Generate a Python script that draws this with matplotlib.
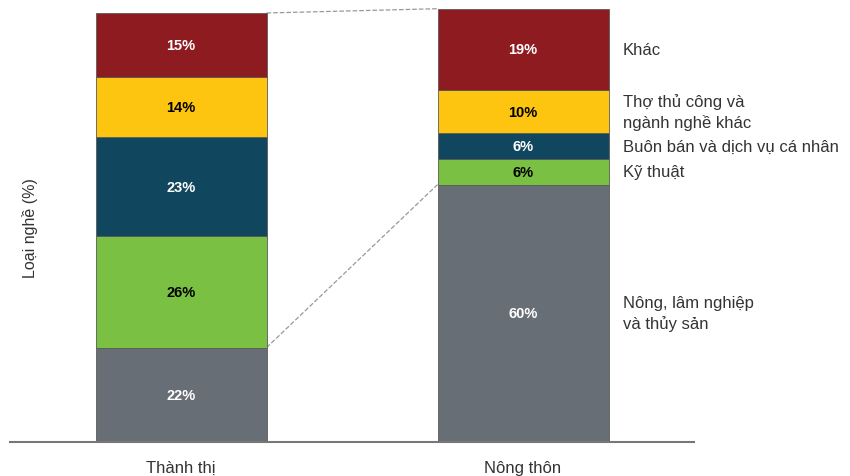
import matplotlib.pyplot as plt
import numpy as np

plt.rcParams["font.family"] = ["Liberation Sans", "DejaVu Sans"]

# Data
areas = ["Thành thị", "Nông thôn"]
occupations = [
    "Nông, lâm nghiệp\nvà thủy sản",
    "Kỹ thuật",
    "Buôn bán và dịch vụ cá nhân",
    "Thợ thủ công và\nngành nghề khác",
    "Khác",
]
urban = [22, 26, 23, 14, 15]
rural = [60, 6, 6, 10, 19]

colors = ["#686E76", "#7AC143", "#11475E", "#FDC50F", "#8E1B20"]
text_colors = ["white", "black", "white", "black", "white"]

fig = plt.figure(figsize=(8.5, 4.77), dpi=100)
ax = fig.add_axes([10 / 850, 1 - 443 / 477, 684 / 850, 429 / 477])

x = np.arange(len(areas))
width = 0.5
values = np.array([urban, rural]).T
bottoms = np.zeros(len(areas))

for i, row in enumerate(values):
    ax.bar(x, row, width, bottom=bottoms, color=colors[i],
           edgecolor="#5a5a5a", linewidth=0.6, clip_on=False, zorder=2)
    for xi, v, b in zip(x, row, bottoms):
        ax.text(xi, b + v / 2, f"{v}%", ha="center", va="center",
                fontsize=10.5, fontweight="bold", color=text_colors[i], zorder=3)
    # category labels beside the rural bar
    ax.text(x[1] + 0.291, bottoms[1] + row[1] / 2, occupations[i],
            ha="left", va="center", fontsize=12, color="#333333",
            linespacing=1.4)
    bottoms += row

# dashed connectors between the bars
left_edge = x[0] + width / 2
right_edge = x[1] - width / 2
ax.plot([left_edge, right_edge], [sum(urban), sum(rural)],
        ls="--", color="#999999", lw=0.9, clip_on=False, zorder=1)
ax.plot([left_edge, right_edge], [urban[0], rural[0]],
        ls="--", color="#999999", lw=0.9, clip_on=False, zorder=1)

ax.set_xlim(-0.5, 1.5)
ax.set_ylim(0, 100)
ax.set_xticks(x)
ax.set_xticklabels(areas, fontsize=12, color="#333333")
ax.tick_params(axis="x", length=0, pad=13)
ax.set_yticks([])
ax.set_ylabel("Loại nghề (%)", fontsize=11.5, color="#333333")
ax.yaxis.set_label_coords(28 / 684, 0.5)

for side in ["top", "right", "left"]:
    ax.spines[side].set_visible(False)
ax.spines["bottom"].set_color("#777777")
ax.spines["bottom"].set_linewidth(1.5)

fig.savefig("out.png", dpi=100)
